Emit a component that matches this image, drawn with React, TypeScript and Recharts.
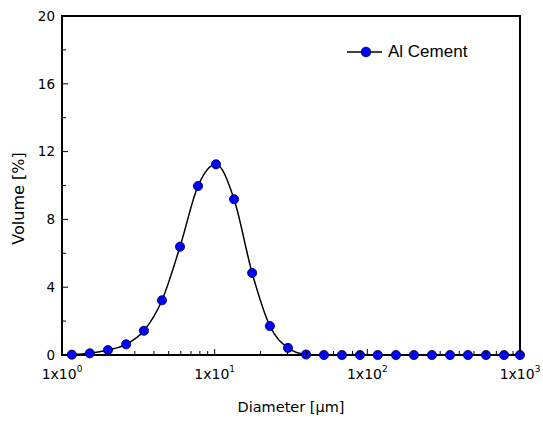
import { LineChart, Line, XAxis, YAxis, Legend, ReferenceArea } from 'recharts';

// particle size distribution
const seriesName = 'Al Cement';
const diameters = [
  1.16, 1.52, 2.0, 2.63, 3.44, 4.52, 5.93, 7.78, 10.2, 13.4, 17.6, 23.0, 30.2,
  39.7, 52.0, 68.2, 89.5, 117, 154, 202, 265, 348, 456, 599, 786, 1000,
];
const volumes = [
  0.02, 0.1, 0.29, 0.63, 1.43, 3.23, 6.39, 9.97, 11.25, 9.19, 4.84, 1.71, 0.42,
  0.03, 0, 0, 0, 0, 0, 0, 0, 0, 0, 0, 0, 0,
];

const xMajorTicks = [1, 10, 100, 1000];
const xTickExponents = ['0', '1', '2', '3'];
const xMinorTicks = [
  2, 3, 4, 5, 6, 7, 8, 9, 20, 30, 40, 50, 60, 70, 80, 90,
  200, 300, 400, 500, 600, 700, 800, 900,
];
const yMajorTicks = [0, 4, 8, 12, 16, 20];
const yMinorTicks = [2, 6, 10, 14, 18];

const data = diameters.map((d, i) => ({ d, v: volumes[i] }));
const xTicks = [...xMajorTicks, ...xMinorTicks].sort((a, b) => a - b);
const yTicks = [...yMajorTicks, ...yMinorTicks].sort((a, b) => a - b);

const FONT = '"DejaVu Sans", Verdana, sans-serif';

function XTick({ x, y, payload }: any) {
  const idx = xMajorTicks.indexOf(payload.value);
  const major = idx >= 0;
  return (
    <g>
      <line x1={x} x2={x} y1={y} y2={y - (major ? 6 : 4)} stroke="#000" strokeWidth={1} />
      {major && (
        <text x={x} y={y + 24} textAnchor="middle" fontSize={14} fill="#000" fontFamily={FONT}>
          1x10
          <tspan dy={-7} fontSize={9}>{xTickExponents[idx]}</tspan>
        </text>
      )}
    </g>
  );
}

function YTick({ x, y, payload }: any) {
  const major = yMajorTicks.includes(payload.value);
  return (
    <g>
      <line x1={x} x2={x + (major ? 6 : 4)} y1={y} y2={y} stroke="#000" strokeWidth={1} />
      {major && (
        <text x={x - 7} y={y} dy="0.36em" textAnchor="end" fontSize={13.5} fill="#000" fontFamily={FONT}>
          {payload.value}
        </text>
      )}
    </g>
  );
}

function Dot({ cx, cy }: any) {
  return <circle cx={cx} cy={cy} r={4.6} fill="#0000ff" stroke="#000033" strokeWidth={0.8} />;
}

function LegendContent({ payload }: any) {
  const item = payload && payload[0];
  return (
    <div style={{ display: 'flex', alignItems: 'center', fontFamily: '"Liberation Sans", Arial, sans-serif', fontSize: 17 }}>
      <svg width={36} height={12}>
        <line x1={0} x2={35} y1={6} y2={6} stroke="#000" strokeWidth={1.5} />
        <circle cx={19} cy={6} r={4.8} fill="#0000ff" stroke="#000033" strokeWidth={0.8} />
      </svg>
      <span style={{ marginLeft: 5, color: '#000' }}>{item ? item.value : seriesName}</span>
    </div>
  );
}

export default function App() {
  return (
    <div style={{ position: 'absolute', left: 0, top: 0, background: '#fff' }}>
      <LineChart
        width={543}
        height={425}
        data={data}
        margin={{ top: 16, right: 23, bottom: 0, left: 0 }}
        style={{ fontFamily: FONT }}
      >
        <XAxis
          dataKey="d"
          type="number"
          scale="log"
          domain={[1, 1000]}
          ticks={xTicks}
          interval={0}
          tickSize={0}
          tickMargin={0}
          tickLine={false}
          tick={<XTick />}
          height={70}
          axisLine={false}
          label={{
            content: ({ viewBox }: any) => (
              <text
                x={viewBox.x + viewBox.width / 2}
                y={viewBox.y + 57}
                textAnchor="middle"
                fontSize={14.5}
                fill="#000"
                fontFamily={FONT}
              >
                Diameter [μm]
              </text>
            ),
          }}
        />
        <YAxis
          type="number"
          domain={[0, 20]}
          ticks={yTicks}
          interval={0}
          width={62}
          tickSize={0}
          tickMargin={0}
          tickLine={false}
          tick={<YTick />}
          axisLine={false}
          label={{
            content: ({ viewBox }: any) => {
              const cx = 18.5;
              const cy = viewBox.y + viewBox.height / 2 + 13;
              return (
                <text
                  x={cx}
                  y={cy}
                  dy="0.36em"
                  textAnchor="middle"
                  fontSize={16}
                  fill="#000"
                  fontFamily={FONT}
                  transform={`rotate(-90, ${cx}, ${cy})`}
                >
                  Volume [%]
                </text>
              );
            },
          }}
        />
        <ReferenceArea
          x1={1}
          x2={1000}
          y1={0}
          y2={20}
          fill="none"
          fillOpacity={0}
          stroke="#000"
          strokeWidth={2}
          strokeOpacity={1}
        />
        <Legend
          layout="horizontal"
          verticalAlign="middle"
          align="center"
          content={<LegendContent />}
          wrapperStyle={{ position: 'absolute', left: 347, top: 42, width: 'auto' }}
        />
        <Line
          name={seriesName}
          dataKey="v"
          type="monotone"
          stroke="#000"
          strokeWidth={1.5}
          dot={<Dot />}
          activeDot={false}
          isAnimationActive={false}
        />
      </LineChart>
    </div>
  );
}
